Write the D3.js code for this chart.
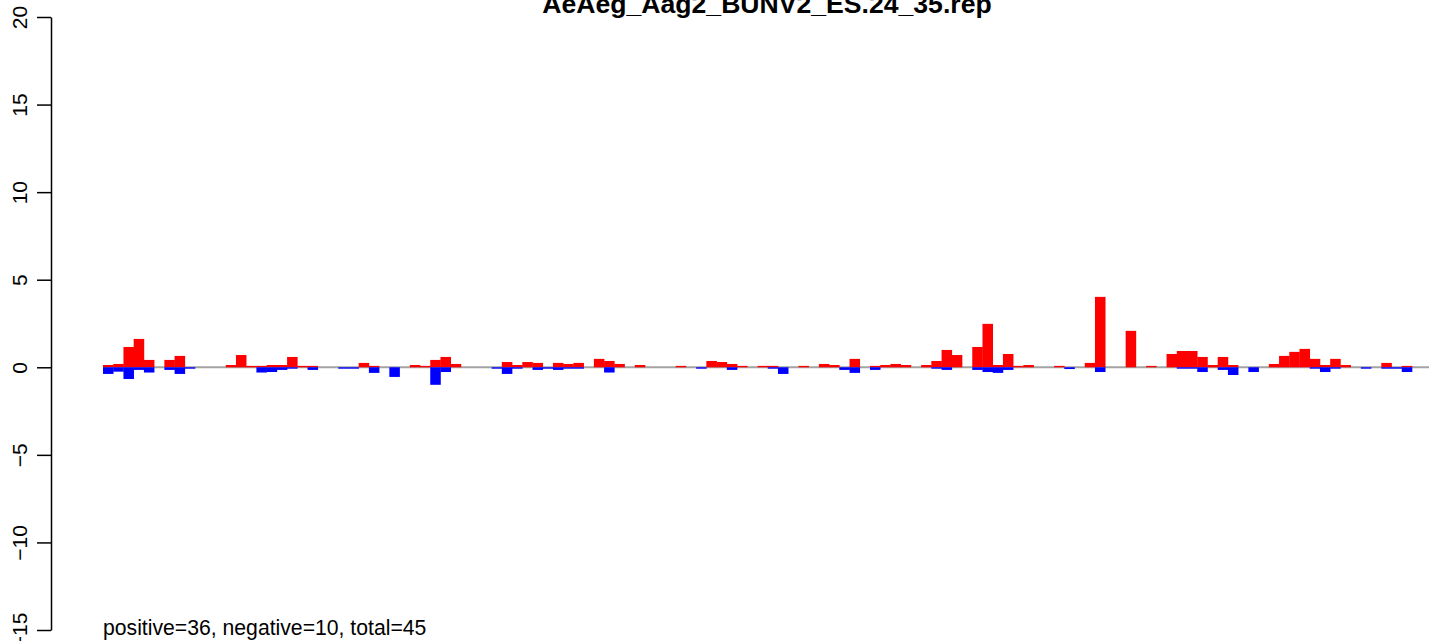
<!DOCTYPE html>
<html><head><meta charset="utf-8">
<script src="https://cdn.jsdelivr.net/npm/d3@7"></script>
<style>html,body{margin:0;padding:0;background:#fff;overflow:hidden}</style>
</head><body>
<svg id="chart" width="1429" height="641"></svg>
<script>
const title = "AeAeg_Aag2_BUNV2_ES.24_35.rep";
const footer = "positive=36, negative=10, total=45";
const yTicks = [-15, -10, -5, 0, 5, 10, 15, 20];
const positive = [
0.13,0.19,1.16,1.62,0.42,0,0.42,0.65,0,0,0,0,0.13,0.7,0.08,0.08,0.13,0.13,0.59,0.08,0.08,
0,0,0,0,0.25,0.08,0,0,0,0.13,0.08,0.42,0.59,0.19,0,0,0,0,0.3,0.13,0.3,0.25,
0,0.25,0.19,0.25,0,0.48,0.36,0.19,0,0.13,0,0,0,0.08,0,0,0.36,0.3,0.19,0.08,0,
0.08,0.08,0,0,0.08,0,0.19,0.13,0,0.48,0,0.08,0.13,0.19,0.13,0,0.13,0.36,0.99,0.7,0,1.16,
2.48,0.13,0.76,0.08,0.13,0,0,0.08,0,0,0.25,4.02,0,0,2.08,0,0.08,0,0.76,0.93,0.93,0.59,
0.13,0.59,0.13,0,0,0,0.19,0.65,0.88,1.05,0.48,0.13,0.48,0.13,0,0,0,0.25,0,0.08
];
const negative = [
-0.38,-0.25,-0.67,-0.15,-0.3,0,-0.15,-0.38,-0.08,0,0,0,0,0,0,-0.3,-0.27,-0.15,-0.08,0,-0.15,
0,0,-0.08,-0.08,0,-0.32,0,-0.55,0,0,0,-1.0,-0.27,0,0,0,0,-0.08,-0.38,-0.08,0,-0.15,
-0.08,-0.15,-0.08,-0.08,0,0,-0.3,0,0,0,0,0,0,0,0,-0.08,0,0,-0.15,0,0,
0,-0.08,-0.38,0,0,0,0,0,-0.15,-0.32,0,-0.15,0,0,0,0,0,-0.08,-0.15,0,0,-0.15,
-0.27,-0.32,-0.15,0,0,0,0,0,-0.1,0,0,-0.27,0,0,0,0,0,0,0,-0.08,-0.08,-0.27,
0,-0.15,-0.44,0,-0.27,0,0,0,0,0,-0.08,-0.27,-0.08,0,0,-0.08,0,-0.08,-0.08,-0.27
];

const svg = d3.select("#chart");
const font = "'Liberation Sans', Arial, Helvetica, sans-serif";
const x = d3.scaleBand().domain(d3.range(positive.length)).range([103, 1412]).padding(0);
const y = d3.scaleLinear().domain([-15, 20]).range([630, 17]);

// zero line
svg.append("line")
  .attr("x1", x(0)).attr("x2", 1429)
  .attr("y1", y(0)).attr("y2", y(0))
  .attr("stroke", "#a3a3a3").attr("stroke-width", 2);

svg.append("g").selectAll("rect").data(positive).join("rect")
  .attr("x", (d, i) => x(i)).attr("width", x.bandwidth() + 0.3)
  .attr("y", d => y(d)).attr("height", d => y(0) - y(d))
  .attr("fill", "#ff0000");

svg.append("g").selectAll("rect").data(negative).join("rect")
  .attr("x", (d, i) => x(i)).attr("width", x.bandwidth() + 0.3)
  .attr("y", y(0)).attr("height", d => y(d) - y(0))
  .attr("fill", "#0000ff");

// y axis
const ax = svg.append("g").attr("transform", "translate(51,0)")
  .call(d3.axisLeft(y).tickValues(yTicks).tickSize(14).tickSizeOuter(0).tickFormat(d => d < 0 ? "\u2212" + Math.abs(d) : d));
ax.select(".domain").attr("stroke", "#000").attr("stroke-width", 1.5);
ax.selectAll(".tick line").attr("stroke", "#000").attr("stroke-width", 1.5);
ax.selectAll(".tick text")
  .attr("x", null).attr("dy", null)
  .attr("transform", "translate(-24,0) rotate(-90)")
  .attr("text-anchor", "middle")
  .attr("font-family", font).attr("font-size", 21).attr("fill", "#000");

// title
svg.append("text").attr("x", 767).attr("y", 13)
  .attr("text-anchor", "middle").attr("font-family", font)
  .attr("font-weight", "bold").attr("font-size", 26.6).text(title);

// footer
svg.append("text").attr("x", 103).attr("y", 635)
  .attr("font-family", font).attr("font-size", 21.2).text(footer);
</script>
</body></html>
